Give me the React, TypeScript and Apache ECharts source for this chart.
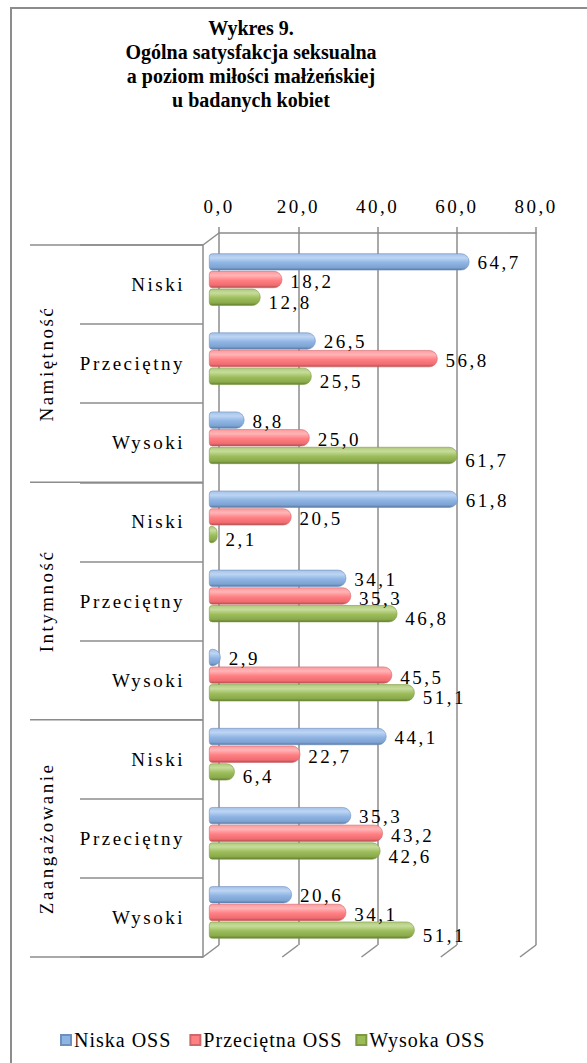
import React, { useEffect, useRef } from "react";
import * as echarts from "echarts";

const groups = ["Namiętność", "Intymność", "Zaangażowanie"];
const levels = ["Niski", "Przeciętny", "Wysoki"];
const categories = groups.flatMap((g) => levels.map((l) => `${g}|${l}`));
const seriesNames = ["Niska OSS", "Przeciętna OSS", "Wysoka OSS"];
const niskaOSS = [64.7, 26.5, 8.8, 61.8, 34.1, 2.9, 44.1, 35.3, 20.6];
const przecietnaOSS = [18.2, 56.8, 25.0, 20.5, 35.3, 45.5, 22.7, 43.2, 34.1];
const wysokaOSS = [12.8, 25.5, 61.7, 2.1, 46.8, 51.1, 6.4, 42.6, 51.1];
const xMin = 0;
const xMax = 80;
const xStep = 20;
const titleLines = [
  "Wykres 9.",
  "Ogólna satysfakcja seksualna",
  "a poziom miłości małżeńskiej",
  "u badanych kobiet",
];

const FONT = "Liberation Serif";
const GRAY = "#8c8c8c";

// layout
const FRONT_L = 203, FRONT_T = 245, PLOT_H = 712, PLOT_W = 317;
const DX = 16, DY = 12;
const BACK_L = FRONT_L + DX, BACK_T = FRONT_T - DY;
const BAR_L = 209, BAR_T = 240, BAR_W = 322;

const fmt = (v: number) => v.toFixed(1).replace(".", ",");

function cyl(c0: string, c1: string, c2: string, c3: string, c4: string) {
  return new echarts.graphic.LinearGradient(0, 0, 0, 1, [
    { offset: 0, color: c0 },
    { offset: 0.25, color: c1 },
    { offset: 0.55, color: c2 },
    { offset: 0.85, color: c3 },
    { offset: 1, color: c4 },
  ]);
}

export default function App() {
  const ref = useRef<HTMLDivElement>(null);
  useEffect(() => {
    if (!ref.current) return;
    const chart = echarts.init(ref.current, undefined, { renderer: "svg" });
    const n = categories.length;
    const band = PLOT_H / n;
    const graphics: any[] = [];
    graphics.push({
      type: "rect",
      shape: { x: 11, y: 8, width: 620, height: 1100 },
      style: { fill: "none", stroke: GRAY, lineWidth: 2 },
      silent: true,
    });
    graphics.push({
      type: "text",
      x: 251,
      y: 16,
      style: {
        text: titleLines.join("\n"),
        fontSize: 20,
        fontWeight: "bold",
        fontFamily: FONT,
        fill: "#000",
        align: "center",
        verticalAlign: "top",
        lineHeight: 24,
      },
    });
    for (let g = 0; g <= groups.length; g++) {
      const y = FRONT_T + g * 3 * band;
      graphics.push({
        type: "line",
        shape: { x1: 30, y1: y, x2: FRONT_L, y2: y },
        style: { stroke: GRAY, lineWidth: 1.5 },
      });
    }
    groups.forEach((g, i) => {
      graphics.push({
        type: "text",
        x: 46,
        y: FRONT_T + (i * 3 + 1.5) * band,
        rotation: Math.PI / 2,
        style: {
          text: g,
          fontSize: 19,
          fontFamily: FONT,
          fill: "#000",
          align: "center",
          verticalAlign: "middle",
        },
      });
    });
    graphics.push({
      type: "line",
      shape: { x1: FRONT_L, y1: FRONT_T, x2: BACK_L, y2: BACK_T },
      style: { stroke: GRAY, lineWidth: 1.5 },
    });
    const nt = (xMax - xMin) / xStep;
    for (let k = 0; k <= nt; k++) {
      const x = BACK_L + (k * PLOT_W) / nt;
      graphics.push({
        type: "line",
        shape: { x1: x, y1: BACK_T + PLOT_H, x2: x - DX, y2: BACK_T + PLOT_H + DY },
        style: { stroke: GRAY, lineWidth: 1.5 },
      });
    }

    const labelCfg = (dy: number) => ({
      show: true,
      position: "right",
      distance: 8,
      offset: [0, dy],
      color: "#000",
      fontSize: 19,
      fontFamily: FONT,
      formatter: (p: any) => fmt(p.value),
    });
    const mk = (name: string, data: number[], color: any, border: string, dy: number) => ({
      name,
      type: "bar",
      xAxisIndex: 0,
      yAxisIndex: 0,
      data,
      barWidth: 17,
      barGap: "4%",
      itemStyle: { color, borderRadius: [3, 8, 8, 3], borderColor: border, borderWidth: 0.6 },
      label: labelCfg(dy),
      z: 5,
    });

    chart.setOption({
      animation: false,
      backgroundColor: "#fff",
      grid: [
        { left: BAR_L, top: BAR_T, width: BAR_W, height: PLOT_H },
        { left: BACK_L, top: BACK_T, width: PLOT_W, height: PLOT_H },
        { left: FRONT_L, top: FRONT_T, width: PLOT_W, height: PLOT_H },
      ],
      xAxis: [
        { gridIndex: 0, type: "value", min: xMin, max: xMax, show: false },
        {
          gridIndex: 1,
          type: "value",
          position: "top",
          min: xMin,
          max: xMax,
          interval: xStep,
          axisLine: { show: true, lineStyle: { color: GRAY, width: 1.5 } },
          axisTick: { show: true, length: 6, lineStyle: { color: GRAY, width: 1.5 } },
          splitLine: { show: true, lineStyle: { color: GRAY, width: 1.5 } },
          axisLabel: {
            formatter: (v: number) => fmt(v),
            fontSize: 19,
            fontFamily: FONT,
            color: "#000",
            margin: 17,
          },
        },
        { gridIndex: 2, type: "value", min: xMin, max: xMax, show: false },
      ],
      yAxis: [
        { gridIndex: 0, type: "category", data: categories, inverse: true, show: false },
        { gridIndex: 1, type: "category", data: categories, inverse: true, show: false },
        {
          gridIndex: 2,
          type: "category",
          data: categories,
          inverse: true,
          axisLine: { show: true, lineStyle: { color: GRAY, width: 1.5 } },
          axisTick: { show: true, length: 123, lineStyle: { color: GRAY, width: 1.5 } },
          axisLabel: {
            formatter: (v: string) => v.split("|")[1],
            fontSize: 19,
            fontFamily: FONT,
            color: "#000",
            margin: 18,
          },
          splitLine: { show: false },
        },
      ],
      legend: {
        data: [
          { name: seriesNames[0], itemStyle: { color: "#8db4e2" } },
          { name: seriesNames[1], itemStyle: { color: "#ff8080" } },
          { name: seriesNames[2], itemStyle: { color: "#9bbb59" } },
        ],
        left: 55,
        top: 1025,
        icon: "rect",
        itemWidth: 10,
        itemHeight: 10,
        itemGap: 27,
        textStyle: { fontSize: 20, fontFamily: FONT, color: "#000", padding: [0, 0, 0, -2] },
      },
      graphic: graphics,
      series: [
        mk(seriesNames[0], niskaOSS, cyl("#a3c1e8", "#bdd5f3", "#8fb5e4", "#7ea3d3", "#56779f"), "#6f8fbf", 1),
        mk(seriesNames[1], przecietnaOSS, cyl("#ff9a9d", "#ffb5b7", "#ff7f83", "#ef6c70", "#b04a4d"), "#d0686b", 2),
        mk(seriesNames[2], wysokaOSS, cyl("#b0ca7c", "#c6dc9b", "#9dbd5b", "#8aa94b", "#5f7d2c"), "#7d9a43", 5),
      ],
    });
    return () => chart.dispose();
  }, []);
  return (
    <div>
      <style>{`
        .ch text[style*="19px"] { letter-spacing: 2.5px; }
        .ch text[style*="20px"] { letter-spacing: 1px; }
        .ch text[style*="bold"] { letter-spacing: 0px; }
      `}</style>
      <div
        ref={ref}
        className="ch"
        style={{ position: "fixed", left: 0, top: 0, width: 587, height: 1063, background: "#fff" }}
      />
    </div>
  );
}
